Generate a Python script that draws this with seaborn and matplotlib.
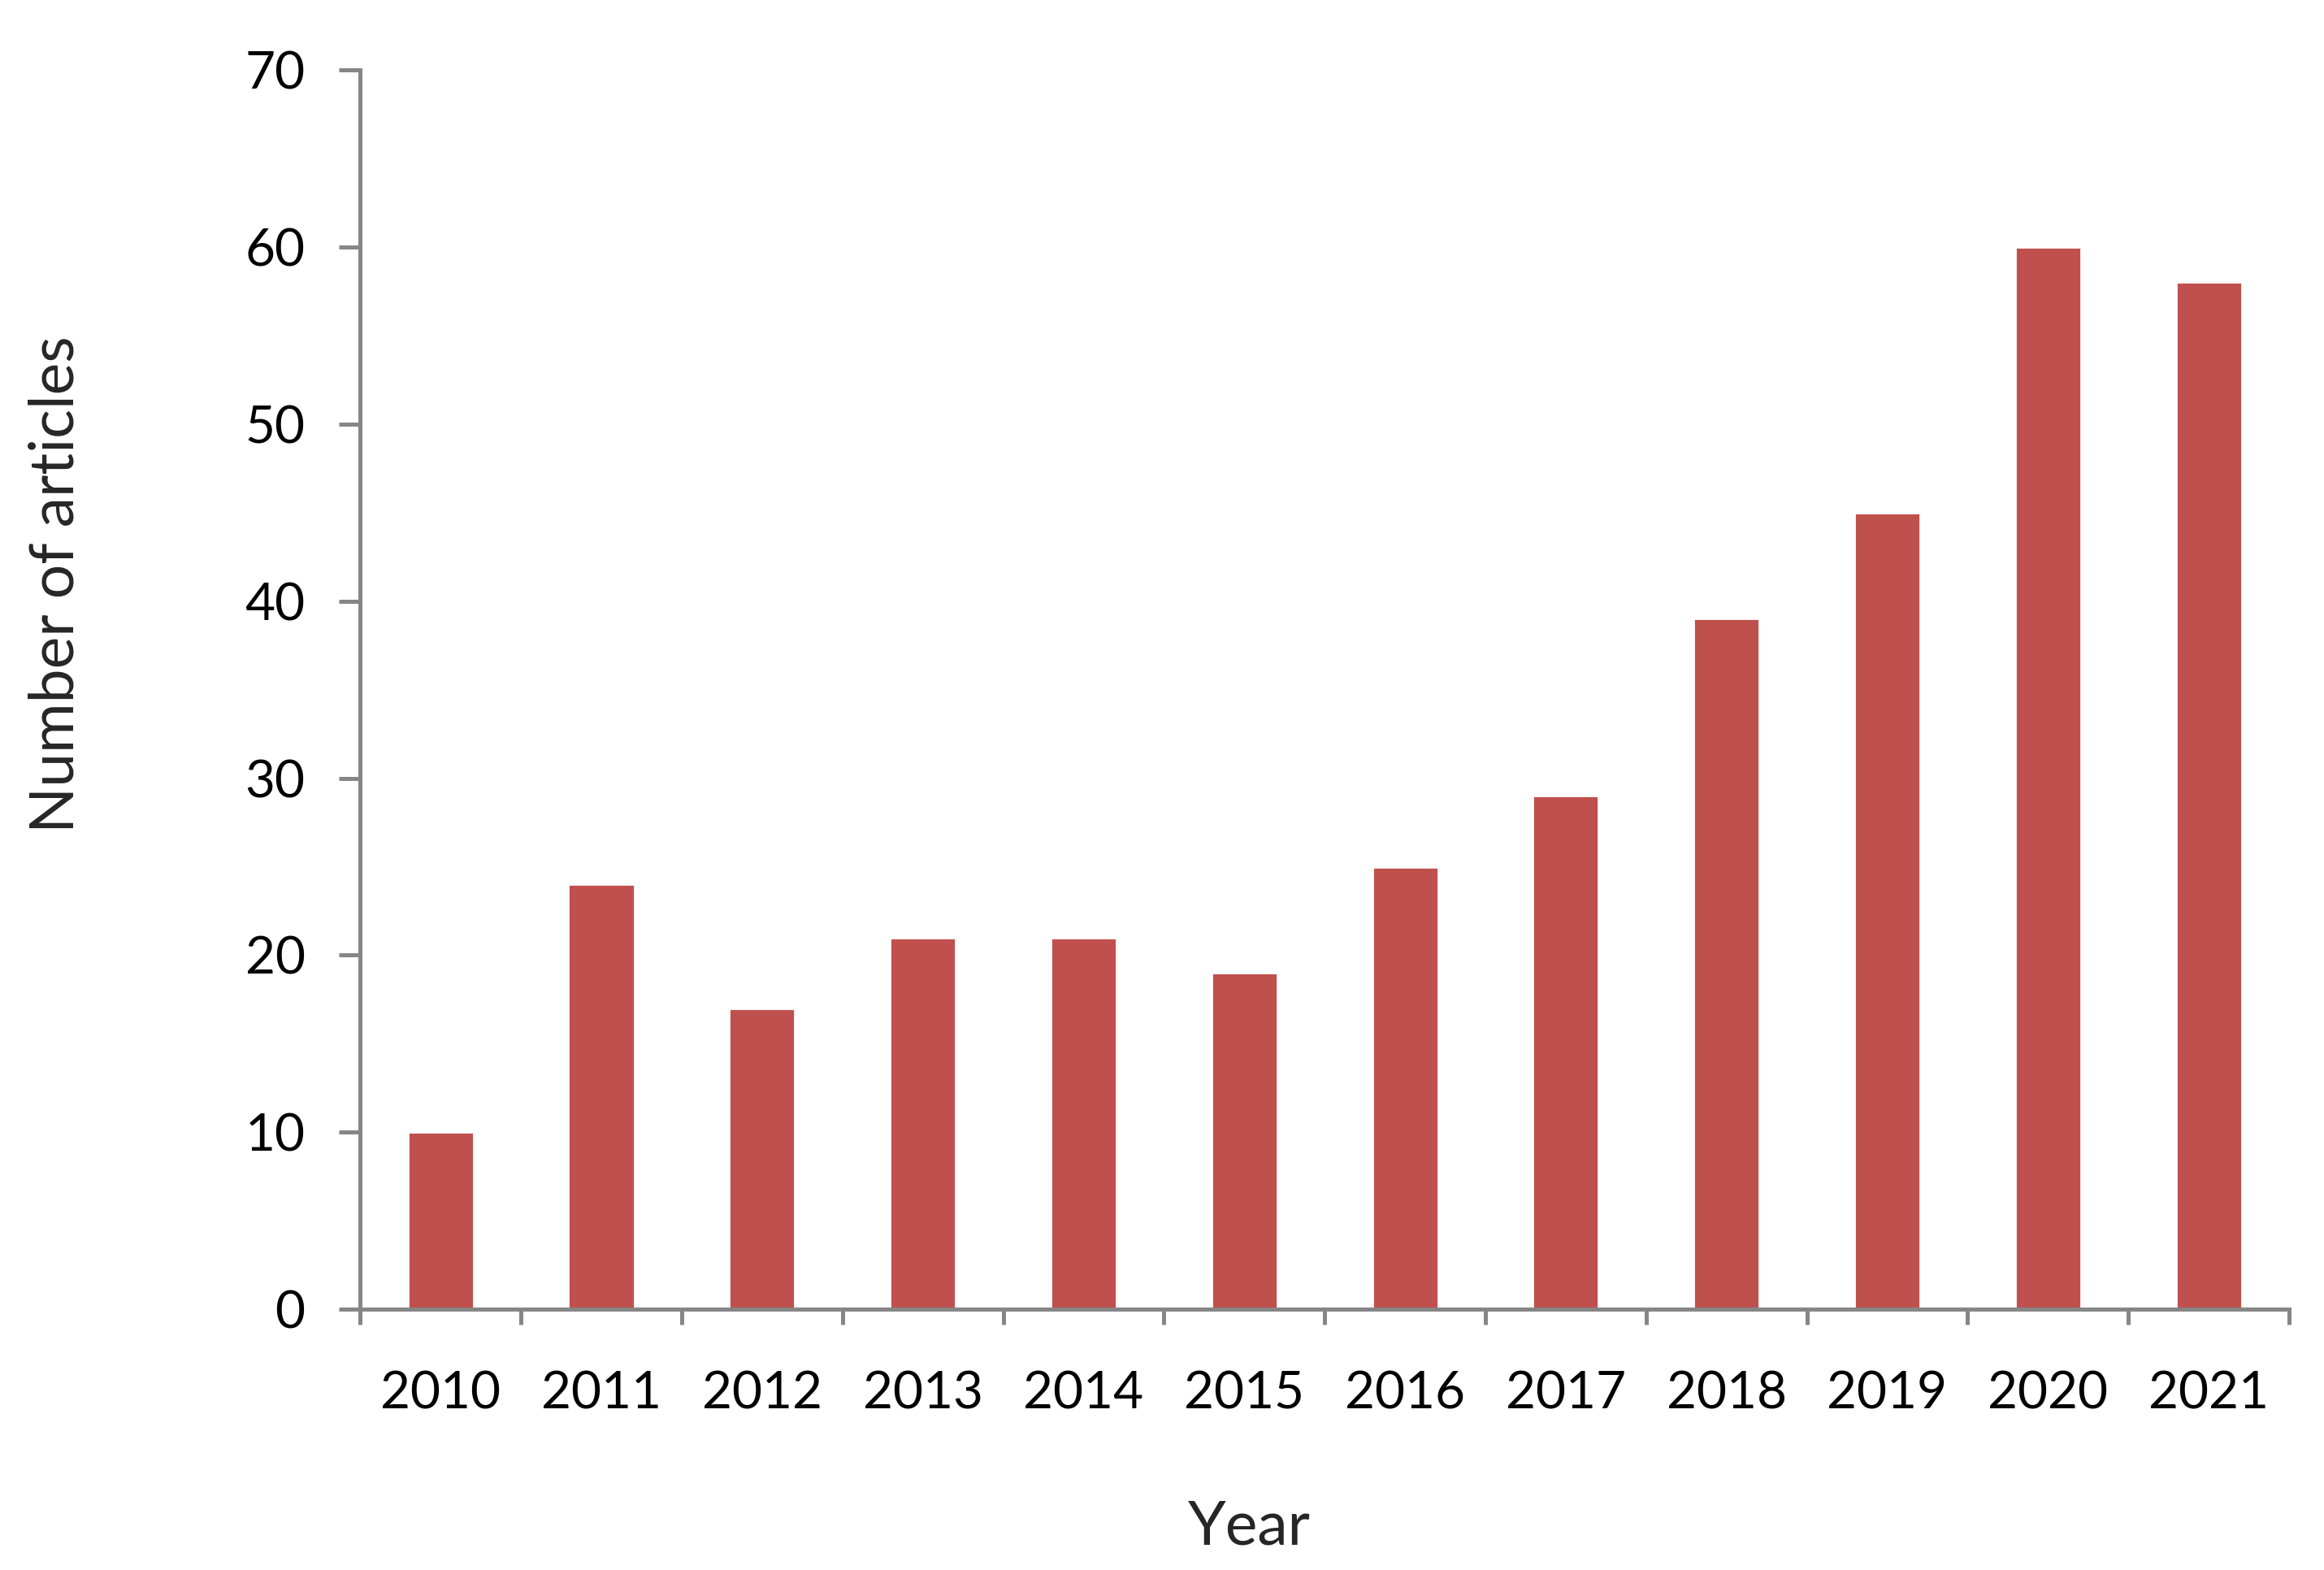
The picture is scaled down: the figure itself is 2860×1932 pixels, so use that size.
import matplotlib
matplotlib.use("Agg")
import matplotlib.pyplot as plt
import pandas as pd
import seaborn as sns
from matplotlib.ticker import FixedLocator

sns.set_theme(style="white")
plt.rcParams['font.family'] = ['Lato', 'DejaVu Sans']

# Data
years = ['2010', '2011', '2012', '2013', '2014', '2015',
         '2016', '2017', '2018', '2019', '2020', '2021']
articles = [10, 24, 17, 21, 21, 19, 25, 29, 39, 45, 60, 58]

df = pd.DataFrame({'year': years, 'articles': articles})

axis_grey = '#868686'
bar_red = '#C0504D'

fig = plt.figure(figsize=(14.3, 9.66), dpi=200)
ax = fig.add_axes([0.155, 0.166, 0.83, 0.7895])

sns.barplot(data=df, x='year', y='articles', color=bar_red,
            width=0.41, saturation=1, ax=ax)

ax.set_xlim(-0.5, len(years) - 0.5)
ax.set_ylim(0, 70)
ax.set_yticks(range(0, 71, 10))

# category boundary ticks on the x axis
ax.xaxis.set_minor_locator(FixedLocator([i - 0.5 for i in range(len(years) + 1)]))
ax.tick_params(axis='x', which='major', length=0, pad=27, labelsize=23, colors='black')
ax.tick_params(axis='x', which='minor', bottom=True, length=7, width=1.8,
               color=axis_grey, direction='out')
ax.tick_params(axis='y', which='major', left=True, length=9.4, width=1.8,
               color=axis_grey, pad=15, labelsize=23, labelcolor='black')

for side in ['top', 'right']:
    ax.spines[side].set_visible(False)
for side in ['left', 'bottom']:
    ax.spines[side].set_color(axis_grey)
    ax.spines[side].set_linewidth(1.8)

ax.set_xlabel('Year', fontsize=27)
ax.set_ylabel('Number of articles', fontsize=27)
ax.xaxis.set_label_coords(0.461, -0.153)
ax.yaxis.set_label_coords(-0.143, 0.585)

fig.savefig('out.png', dpi=200, facecolor='white')
